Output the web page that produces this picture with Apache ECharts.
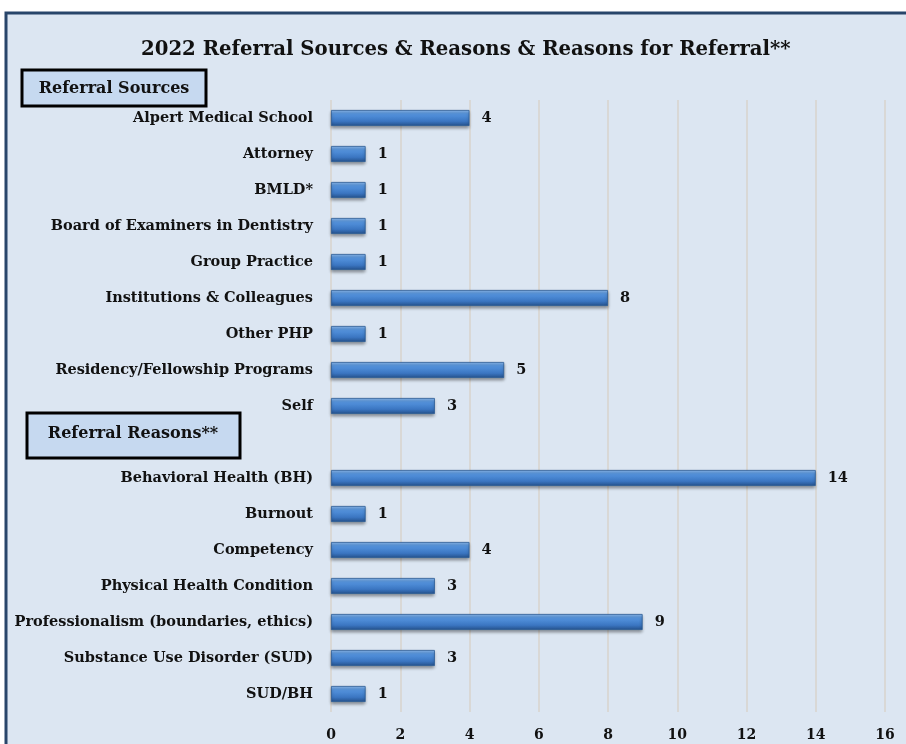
<!DOCTYPE html>
<html><head><meta charset="utf-8">
<script src="https://cdn.jsdelivr.net/npm/echarts@6/dist/echarts.min.js"></script>
<style>html,body{margin:0;padding:0;background:#fff;}#c{width:906px;height:744px;}</style>
</head><body><div id="c"></div>
<script>
const categories = ["Alpert Medical School","Attorney","BMLD*","Board of Examiners in Dentistry","Group Practice","Institutions & Colleagues","Other PHP","Residency/Fellowship Programs","Self","","Behavioral Health (BH)","Burnout","Competency","Physical Health Condition","Professionalism (boundaries, ethics)","Substance Use Disorder (SUD)","SUD/BH"];
const values = [4,1,1,1,1,8,1,5,3,null,14,1,4,3,9,3,1];
const xTicks = [0,2,4,6,8,10,12,14,16];
const title = "2022 Referral Sources & Reasons & Reasons for Referral**";
const heading1 = "Referral Sources";
const heading2 = "Referral Reasons**";

const FONT = "'DejaVu Serif', serif";
const chart = echarts.init(document.getElementById('c'));
chart.setOption({
  backgroundColor: 'transparent',
  animation: false,
  title: { text: title, left: 136, top: 35, textStyle: { fontFamily: FONT, fontWeight: 'bold', fontSize: 19.7, color: '#111' } },
  grid: { left: 331, right: 21, top: 100, bottom: 32, containLabel: false },
  xAxis: {
    type: 'value', min: xTicks[0], max: xTicks[xTicks.length-1], interval: 2,
    axisLine: { show: false }, axisTick: { show: false },
    splitLine: { show: true, lineStyle: { color: '#d8d3cc', width: 1.5 } },
    axisLabel: { fontFamily: FONT, fontWeight: 'bold', fontSize: 14, color: '#111', margin: 16 }
  },
  yAxis: {
    type: 'category', data: categories, inverse: true,
    axisLine: { show: false }, axisTick: { show: false },
    axisLabel: { fontFamily: FONT, fontWeight: 'bold', fontSize: 14.5, color: '#111', margin: 18 }
  },
  series: [{
    type: 'bar', data: values, barWidth: 16,
    itemStyle: {
      color: new echarts.graphic.LinearGradient(0,0,0,1,[
        {offset:0,color:'#8fbcf0'},{offset:0.25,color:'#5594de'},{offset:0.7,color:'#3b76c2'},{offset:1,color:'#24508a'}]),
      borderColor: '#2a5a96', borderWidth: 0.8,
      shadowColor: 'rgba(0,0,0,0.35)', shadowBlur: 3, shadowOffsetY: 2
    },
    label: { show: true, position: 'right', distance: 12, fontFamily: FONT, fontWeight: 'bold', fontSize: 14.5, color: '#111' }
  }],
  graphic: [
    { type: 'rect', z: -10, shape: { x: 6, y: 13, width: 1000, height: 1000 }, style: { fill: '#dce6f2', stroke: '#28456a', lineWidth: 3 } },
    { type: 'rect', z: 10, shape: { x: 22, y: 70, width: 184, height: 36 }, style: { fill: '#c6d9f0', stroke: '#000', lineWidth: 3 } },
    { type: 'text', z: 11, x: 114, y: 89, style: { text: heading1, fontFamily: FONT, fontWeight: 'bold', fontSize: 16, fill: '#111', align: 'center', verticalAlign: 'middle' } },
    { type: 'rect', z: 10, shape: { x: 27, y: 413, width: 213, height: 45 }, style: { fill: '#c6d9f0', stroke: '#000', lineWidth: 3 } },
    { type: 'text', z: 11, x: 133, y: 434, style: { text: heading2, fontFamily: FONT, fontWeight: 'bold', fontSize: 16, fill: '#111', align: 'center', verticalAlign: 'middle' } }
  ]
});
</script></body></html>
